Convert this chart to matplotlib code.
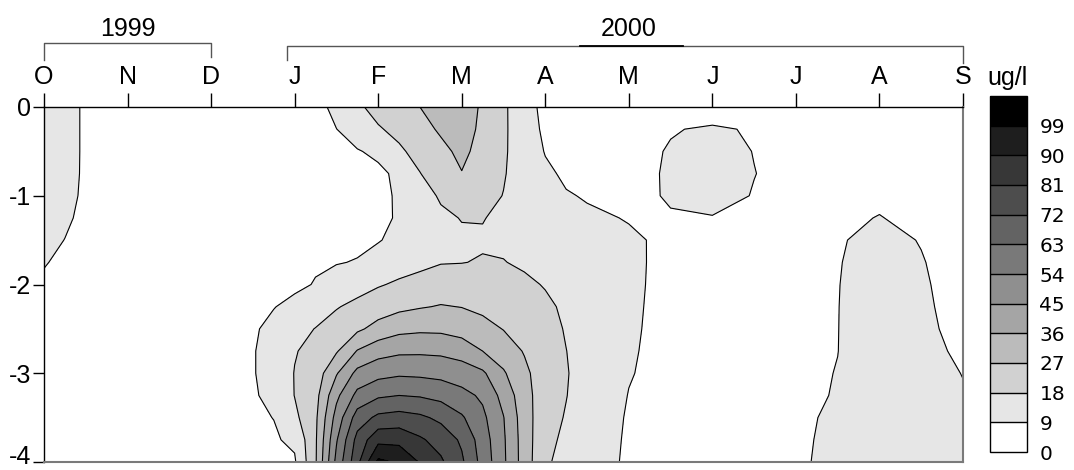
import numpy as np
import matplotlib
matplotlib.use("Agg")
import matplotlib.pyplot as plt
from matplotlib.lines import Line2D
from matplotlib.transforms import blended_transform_factory, offset_copy

# Sampling dates in months after 1 October 1999 and sampling depths (m)
sample_months = [0, 0.25, 0.5, 1, 1.5, 2, 2.5, 2.75, 3, 3.25, 3.5, 3.75, 4, 4.25,
                 4.5, 4.75, 5, 5.25, 5.5, 5.75, 6, 6.25, 6.5, 7, 7.5, 8, 8.5, 9,
                 9.5, 10, 10.5, 11]
sample_depths = [0, 0.25, 0.5, 0.75, 1.0, 1.25, 1.5, 1.75, 2.0, 2.25, 2.5, 2.75,
                 3.0, 3.25, 3.5, 3.75, 4.0]

# One concentration profile (ug/l, surface to 4 m) per sampling date
profiles = [
    [14.0, 14.0, 14.0, 13.5, 13.0, 12.0, 10.8, 9.3, 8.2, 7.5, 7.0, 6.5, 6.0, 5.5, 5.0, 4.5, 4.0],
    [12.0, 12.0, 12.0, 11.8, 11.0, 10.0, 8.9, 8.0, 7.4, 7.0, 6.6, 6.2, 5.8, 5.4, 5.0, 4.6, 4.2],
    [7.8, 7.8, 7.8, 7.8, 7.8, 7.5, 7.0, 6.6, 6.2, 6.0, 5.8, 5.6, 5.4, 5.2, 5.0, 4.8, 4.6],
    [6.0, 6.0, 6.0, 6.0, 6.0, 5.8, 5.6, 5.4, 5.2, 5.0, 5.0, 5.0, 5.0, 5.0, 5.0, 5.0, 5.0],
    [5.5, 5.5, 5.4, 5.4, 5.3, 5.3, 5.2, 5.2, 5.3, 5.4, 5.5, 5.6, 5.7, 5.7, 5.6, 5.5, 5.4],
    [5.0, 5.0, 5.0, 5.0, 5.0, 5.2, 5.5, 5.8, 6.2, 6.6, 7.0, 7.2, 7.3, 7.2, 7.0, 6.8, 6.5],
    [5.0, 5.0, 5.0, 5.2, 5.5, 5.8, 6.2, 6.8, 7.4, 7.9, 8.3, 8.6, 8.6, 8.4, 8.0, 7.6, 7.2],
    [5.0, 5.0, 5.2, 5.5, 5.8, 6.2, 6.8, 7.5, 8.2, 8.8, 10.5, 11.5, 11.5, 10.5, 9.1, 8.2, 7.5],
    [5.5, 5.8, 6.2, 6.6, 7.0, 7.3, 7.6, 7.8, 7.9, 10.5, 14.5, 17.5, 18.3, 18.2, 16.0, 10.5, 8.0],
    [6.0, 6.2, 6.5, 6.8, 7.1, 7.5, 7.9, 8.4, 9.3, 13.0, 18.3, 20.5, 22.0, 24.0, 25.3, 25.8, 26.0],
    [11.4, 8.9, 7.5, 7.2, 7.2, 7.4, 7.9, 8.7, 11.5, 17.4, 21.8, 26.1, 35.2, 42.9, 48.4, 53.1, 56.5],
    [16.7, 12.8, 8.5, 7.2, 6.8, 7.0, 7.8, 9.3, 14.5, 20.3, 25.4, 36.5, 47.5, 56.5, 67.2, 75.0, 78.5],
    [20.5, 17.3, 10.5, 7.5, 7.8, 7.9, 8.5, 12.4, 17.3, 22.7, 30.0, 41.6, 51.1, 61.6, 74.1, 87.4, 101.0],
    [23.7, 20.0, 16.8, 10.5, 9.6, 9.5, 11.2, 14.5, 19.2, 24.9, 33.5, 43.4, 52.6, 63.0, 75.5, 87.3, 98.0],
    [27.0, 24.0, 20.5, 17.8, 14.5, 12.8, 13.5, 16.2, 20.5, 26.4, 34.4, 43.6, 52.2, 62.2, 73.7, 82.3, 89.3],
    [31.0, 28.2, 24.8, 22.0, 19.0, 16.5, 16.0, 17.6, 22.3, 27.5, 34.2, 43.2, 51.3, 60.3, 70.0, 77.5, 82.4],
    [32.5, 31.0, 29.0, 26.7, 22.5, 18.3, 16.8, 17.8, 22.5, 26.8, 32.2, 41.5, 49.3, 56.8, 64.1, 70.6, 73.5],
    [25.5, 25.0, 24.0, 22.5, 20.5, 18.3, 17.2, 18.5, 21.5, 25.0, 30.0, 36.0, 46.5, 52.5, 56.0, 58.5, 59.8],
    [19.3, 19.2, 19.0, 18.6, 17.8, 16.5, 16.4, 18.3, 21.0, 24.0, 26.7, 31.5, 37.0, 42.0, 45.3, 46.2, 46.6],
    [12.9, 13.5, 14.0, 14.0, 14.0, 14.0, 14.8, 16.6, 19.8, 22.2, 24.3, 26.4, 29.0, 30.5, 31.3, 31.7, 31.8],
    [6.4, 7.3, 8.6, 10.4, 11.5, 12.2, 13.2, 15.0, 17.4, 19.8, 21.0, 21.8, 22.0, 21.6, 20.8, 19.9, 19.0],
    [5.0, 5.5, 6.5, 7.8, 9.5, 11.0, 12.5, 14.0, 15.3, 16.4, 17.4, 18.1, 18.5, 18.2, 17.5, 16.6, 15.7],
    [4.5, 5.0, 5.8, 7.0, 8.5, 10.0, 11.5, 12.6, 13.4, 14.0, 14.5, 14.8, 14.8, 14.5, 14.0, 13.6, 13.1],
    [5.0, 5.5, 6.3, 6.8, 7.5, 8.7, 9.8, 10.1, 10.1, 10.0, 9.9, 9.7, 9.4, 8.8, 8.3, 8.0, 7.8],
    [5.0, 8.5, 9.6, 9.8, 9.5, 8.6, 7.9, 7.5, 7.35, 7.2, 7.0, 6.8, 6.6, 6.4, 6.2, 6.0, 5.8],
    [4.5, 10.0, 12.0, 13.0, 12.0, 8.6, 7.2, 6.8, 6.5, 6.3, 6.1, 6.0, 5.9, 5.8, 5.7, 5.6, 5.5],
    [5.0, 8.3, 8.8, 9.15, 8.6, 7.8, 7.2, 6.8, 6.5, 6.3, 6.2, 6.1, 6.1, 6.2, 6.3, 6.5, 6.7],
    [5.0, 5.8, 6.2, 6.5, 6.8, 7.0, 7.2, 7.4, 7.5, 7.6, 7.7, 7.75, 7.8, 7.9, 8.0, 8.1, 8.2],
    [5.5, 5.8, 6.2, 6.8, 7.4, 7.9, 8.6, 8.75, 8.85, 8.9, 8.92, 8.95, 9.15, 9.3, 9.9, 10.2, 10.4],
    [5.0, 5.5, 6.2, 7.0, 7.9, 9.2, 10.3, 11.0, 11.5, 11.8, 12.0, 12.1, 12.2, 12.2, 12.2, 12.1, 12.0],
    [4.5, 5.0, 5.5, 6.2, 6.8, 7.5, 8.8, 9.25, 9.6, 9.8, 9.9, 10.2, 10.5, 10.8, 11.0, 11.2, 11.3],
    [4.0, 4.5, 5.0, 5.5, 6.0, 6.5, 7.0, 7.0, 7.0, 7.3, 7.8, 8.3, 8.9, 9.3, 9.8, 10.3, 10.8],
]

month_labels = ["O", "N", "D", "J", "F", "M", "A", "M", "J", "J", "A", "S"]
depth_ticks = [0, -1, -2, -3, -4]
depth_labels = ["0", "-1", "-2", "-3", "-4"]
levels = [0, 9, 18, 27, 36, 45, 54, 63, 72, 81, 90, 99, 200]
grays = [255, 230, 209, 187, 165, 143, 121, 99, 77, 55, 30, 0]
years = [("1999", 0.0, 2.0), ("2000", 2.91, 11.0)]

plt.rcParams["font.family"] = ["Liberation Sans", "DejaVu Sans"]

W, H = 1074, 470
fig = plt.figure(figsize=(W / 100, H / 100), dpi=100)


def fx(px):
    return px / W


def fy(py):
    return 1 - py / H


ax = fig.add_axes([fx(44), fy(462), fx(963) - fx(44), fy(107) - fy(462)])

t = np.array(sample_months)
z = -np.array(sample_depths)
conc = np.array(profiles).T
band_colors = [(g / 255, g / 255, g / 255) for g in grays]

cf = ax.contourf(t, z, conc, levels=levels, colors=band_colors)
ax.contour(t, z, conc, levels=levels[1:-1], colors="black", linewidths=0.8)

ax.set_xlim(0, 11)
ax.set_ylim(-4, 0)
ax.xaxis.tick_top()
ax.set_xticks(range(len(month_labels)))
ax.set_xticklabels(month_labels)
ax.set_yticks(depth_ticks)
ax.set_yticklabels(depth_labels)
ax.tick_params(axis="x", direction="out", length=10, width=1, pad=3,
               labelsize=18, colors="black")
ax.tick_params(axis="y", direction="out", length=8, width=1, pad=1,
               labelsize=18)
# keep the lowest depth label inside the canvas
bottom_label = ax.get_yticklabels()[-1]
bottom_label.set_transform(offset_copy(bottom_label.get_transform(), fig=fig,
                                       y=7, units="dots"))
for side in ("top", "left"):
    ax.spines[side].set_color("black")
    ax.spines[side].set_linewidth(1.0)
for side in ("bottom", "right"):
    ax.spines[side].set_color("#7a7a7a")
    ax.spines[side].set_linewidth(1.5)

# Year brackets above the month axis
trans = blended_transform_factory(ax.transData, fig.transFigure)
bracket_y = [43, 46]
left_drop = [60, 60]
right_drop = [57, 63]
for i, (label, x0, x1) in enumerate(years):
    yb = fy(bracket_y[i])
    fig.add_artist(Line2D([x0, x0, x1, x1],
                          [fy(left_drop[i]), yb, yb, fy(right_drop[i])],
                          transform=trans, color="#555555", lw=1.0))
    xm = (x0 + x1) / 2 if i == 0 else 7.0
    fig.text(xm, fy(29), label, transform=trans, ha="center", va="center",
             fontsize=18)
fig.add_artist(Line2D([6.42, 7.65], [fy(46), fy(46)], transform=trans,
                      color="black", lw=1.3))

# Colour scale
cax = fig.add_axes([fx(990), fy(452), fx(1027) - fx(990), fy(96) - fy(452)])
cb = fig.colorbar(cf, cax=cax, ticks=levels[:-1], spacing="uniform",
                  drawedges=True)
cb.outline.set_edgecolor("black")
cb.outline.set_linewidth(1.0)
cb.dividers.set_color("black")
cb.dividers.set_linewidth(1.0)
cb.ax.tick_params(length=0, pad=9)
cb.ax.set_yticklabels([str(v) for v in levels[:-1]], fontsize=14.5,
                      family="DejaVu Sans")
fig.text(fx(987), fy(78), "ug/l", ha="left", va="center", fontsize=18)

fig.savefig("out.png", dpi=100)
